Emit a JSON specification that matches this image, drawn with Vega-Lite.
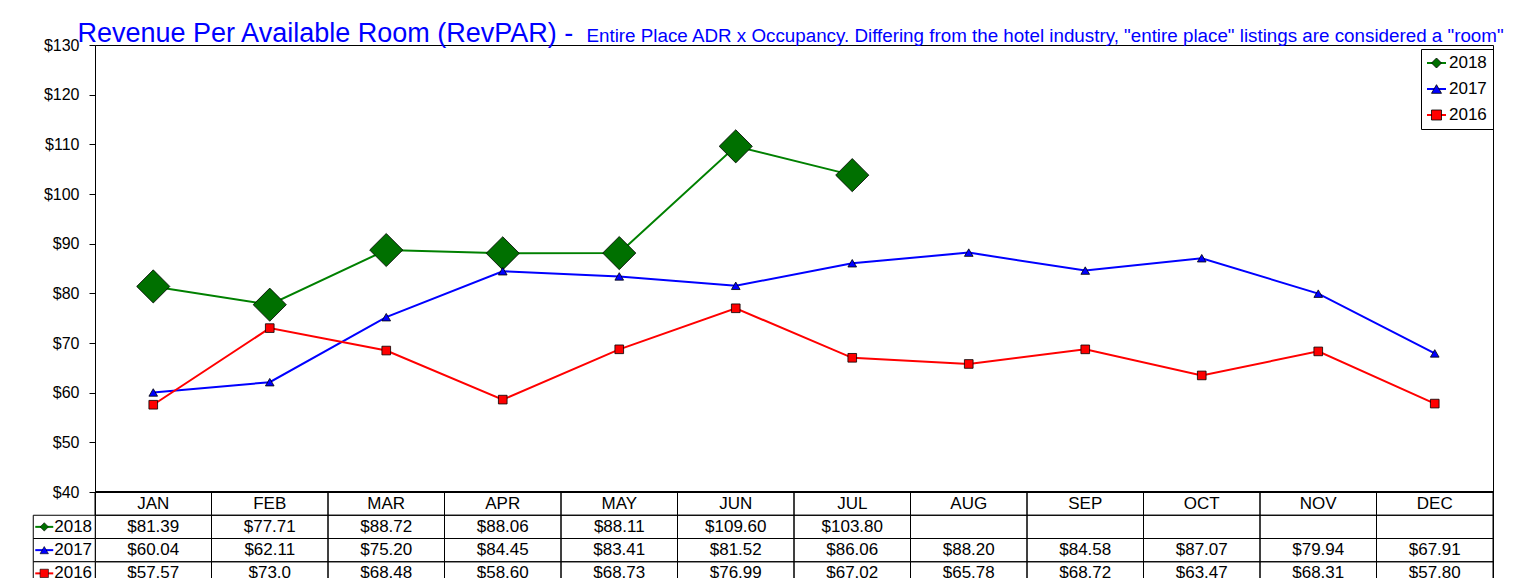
{
  "$schema": "https://vega.github.io/schema/vega-lite/v6.json",
  "autosize": {"type": "none"},
  "padding": {"left": 95, "top": 45, "right": 33, "bottom": 0},
  "width": 1398,
  "height": 541,
  "background": "white",
  "data": {
    "values": [
      {"month": "JAN", "year": "2018", "value": 81.39, "label": "$81.39"},
      {"month": "FEB", "year": "2018", "value": 77.71, "label": "$77.71"},
      {"month": "MAR", "year": "2018", "value": 88.72, "label": "$88.72"},
      {"month": "APR", "year": "2018", "value": 88.06, "label": "$88.06"},
      {"month": "MAY", "year": "2018", "value": 88.11, "label": "$88.11"},
      {"month": "JUN", "year": "2018", "value": 109.60, "label": "$109.60"},
      {"month": "JUL", "year": "2018", "value": 103.80, "label": "$103.80"},
      {"month": "AUG", "year": "2018", "value": null, "label": ""},
      {"month": "SEP", "year": "2018", "value": null, "label": ""},
      {"month": "OCT", "year": "2018", "value": null, "label": ""},
      {"month": "NOV", "year": "2018", "value": null, "label": ""},
      {"month": "DEC", "year": "2018", "value": null, "label": ""},
      {"month": "JAN", "year": "2017", "value": 60.04, "label": "$60.04"},
      {"month": "FEB", "year": "2017", "value": 62.11, "label": "$62.11"},
      {"month": "MAR", "year": "2017", "value": 75.20, "label": "$75.20"},
      {"month": "APR", "year": "2017", "value": 84.45, "label": "$84.45"},
      {"month": "MAY", "year": "2017", "value": 83.41, "label": "$83.41"},
      {"month": "JUN", "year": "2017", "value": 81.52, "label": "$81.52"},
      {"month": "JUL", "year": "2017", "value": 86.06, "label": "$86.06"},
      {"month": "AUG", "year": "2017", "value": 88.20, "label": "$88.20"},
      {"month": "SEP", "year": "2017", "value": 84.58, "label": "$84.58"},
      {"month": "OCT", "year": "2017", "value": 87.07, "label": "$87.07"},
      {"month": "NOV", "year": "2017", "value": 79.94, "label": "$79.94"},
      {"month": "DEC", "year": "2017", "value": 67.91, "label": "$67.91"},
      {"month": "JAN", "year": "2016", "value": 57.57, "label": "$57.57"},
      {"month": "FEB", "year": "2016", "value": 73.0, "label": "$73.0"},
      {"month": "MAR", "year": "2016", "value": 68.48, "label": "$68.48"},
      {"month": "APR", "year": "2016", "value": 58.60, "label": "$58.60"},
      {"month": "MAY", "year": "2016", "value": 68.73, "label": "$68.73"},
      {"month": "JUN", "year": "2016", "value": 76.99, "label": "$76.99"},
      {"month": "JUL", "year": "2016", "value": 67.02, "label": "$67.02"},
      {"month": "AUG", "year": "2016", "value": 65.78, "label": "$65.78"},
      {"month": "SEP", "year": "2016", "value": 68.72, "label": "$68.72"},
      {"month": "OCT", "year": "2016", "value": 63.47, "label": "$63.47"},
      {"month": "NOV", "year": "2016", "value": 68.31, "label": "$68.31"},
      {"month": "DEC", "year": "2016", "value": 57.80, "label": "$57.80"}
    ]
  },
  "encoding": {
    "x": {
      "field": "month",
      "type": "nominal",
      "sort": ["JAN","FEB","MAR","APR","MAY","JUN","JUL","AUG","SEP","OCT","NOV","DEC"],
      "scale": {"type": "band", "paddingInner": 0, "paddingOuter": 0, "domain": ["JAN","FEB","MAR","APR","MAY","JUN","JUL","AUG","SEP","OCT","NOV","DEC"]},
      "axis": null
    }
  },
  "layer": [
    {
      "encoding": {
        "y": {
          "field": "value",
          "type": "quantitative",
          "scale": {"domain": [40, 130], "nice": false, "zero": false, "range": [447, 0]},
          "axis": {
            "title": "Entire Place ADR x Occupancy. Differing from the hotel industry, \"entire place\" listings are considered a \"room\"",
            "titleAngle": 0,
            "titleX": 491,
            "titleY": -4,
            "titleAlign": "left",
            "titleBaseline": "alphabetic",
            "titleFont": "Liberation Sans",
            "titleFontSize": 18.8,
            "titleFontWeight": "normal",
            "titleColor": "#0000FF",
            "values": [40, 50, 60, 70, 80, 90, 100, 110, 120, 130],
            "format": "$d",
            "grid": false,
            "tickSize": 6,
            "tickColor": "black",
            "domainColor": "black",
            "labelPadding": 10,
            "labelFontSize": 16,
            "labelColor": "black"
          }
        }
      },
      "layer": [
        {
          "mark": {"type": "rule", "color": "black", "strokeWidth": 2},
          "encoding": {"x": null, "y": {"datum": 40}}
        },
        {
          "mark": {"type": "line", "strokeWidth": 2},
          "encoding": {
            "stroke": {
              "field": "year",
              "type": "nominal",
              "scale": {"domain": ["2016", "2017", "2018"], "range": ["#FF0000", "#0000FF", "#008000"]},
              "legend": {
                "orient": "none",
                "legendX": 1326,
                "legendY": 4,
                "values": ["2018", "2017", "2016"],
                "title": null,
                "padding": 5.5,
                "rowPadding": 8,
                "symbolType": "M-1.9,0L1.9,0",
                "symbolSize": 100,
                "symbolStrokeWidth": 2,
                "symbolOffset": 1.5,
                "labelFontSize": 17,
                "labelOpacity": 0
              }
            }
          }
        },
        {
          "transform": [{"filter": "datum.year === '2018'"}],
          "mark": {"type": "point", "filled": true, "opacity": 1, "stroke": "black", "strokeWidth": 0.8, "size": 1100},
          "encoding": {
            "fill": {
              "field": "year",
              "type": "nominal",
              "scale": {"domain": ["2018", "2017", "2016"], "range": ["#007000", "#0000FF", "#FF0000"]},
              "legend": {
                "orient": "none",
                "legendX": 1326,
                "legendY": 4,
                "title": null,
                "padding": 5.5,
                "rowPadding": 8,
                "symbolSize": 100,
                "symbolOffset": 1.5,
                "symbolStrokeColor": "black",
                "symbolStrokeWidth": 0.8,
                "labelFontSize": 17,
                "labelColor": "black",
                "strokeColor": "black"
              }
            },
            "shape": {
              "field": "year",
              "type": "nominal",
              "scale": {"domain": ["2018", "2017", "2016"], "range": ["diamond", "triangle-up", "square"]}
            }
          }
        },
        {
          "transform": [{"filter": "datum.year !== '2018'"}],
          "mark": {"type": "point", "filled": true, "opacity": 1, "stroke": "black", "strokeWidth": 0.8, "size": 75},
          "encoding": {
            "fill": {"field": "year", "type": "nominal"},
            "shape": {"field": "year", "type": "nominal"}
          }
        }
      ]
    },
    {
      "encoding": {
        "y": {
          "field": "year",
          "type": "nominal",
          "scale": {"type": "band", "paddingInner": 0, "paddingOuter": 0, "domain": ["hdr", "2018", "2017", "2016"], "range": [447, 540]},
          "axis": {
            "orient": "right",
            "labels": false,
            "ticks": false,
            "domain": false,
            "grid": false,
            "title": "Revenue Per Available Room (RevPAR) -",
            "titleAngle": 0,
            "titleX": -1416,
            "titleY": -4,
            "titleAlign": "left",
            "titleBaseline": "alphabetic",
            "titleFont": "Liberation Sans",
            "titleFontSize": 27,
            "titleFontWeight": "normal",
            "titleColor": "#0000FF"
          }
        }
      },
      "layer": [
        {
          "mark": {"type": "rect", "fill": "transparent", "stroke": "black", "strokeWidth": 1}
        },
        {
          "transform": [{"filter": "datum.year === '2016'"}],
          "mark": {"type": "rect", "fill": "transparent", "stroke": "black", "strokeWidth": 1},
          "encoding": {"y": {"datum": "hdr", "type": "nominal"}}
        },
        {
          "mark": {"type": "text", "fontSize": 17, "color": "black"},
          "encoding": {"text": {"field": "label"}}
        },
        {
          "transform": [{"filter": "datum.year === '2016'"}],
          "mark": {"type": "text", "fontSize": 17, "color": "black"},
          "encoding": {"y": {"datum": "hdr", "type": "nominal"}, "text": {"field": "month"}}
        },
        {
          "transform": [{"filter": "datum.month === 'JAN'"}],
          "mark": {"type": "rect", "width": 62, "xOffset": -89, "fill": "white", "stroke": "black", "strokeWidth": 1}
        },
        {
          "transform": [{"filter": "datum.month === 'JAN'"}],
          "mark": {"type": "point", "shape": "stroke", "size": 324, "xOffset": -109, "strokeWidth": 2, "opacity": 1},
          "encoding": {
            "stroke": {
              "field": "year",
              "type": "nominal",
              "scale": {"domain": ["2018", "2017", "2016"], "range": ["#008000", "#0000FF", "#FF0000"]},
              "legend": null
            }
          }
        },
        {
          "transform": [{"filter": "datum.month === 'JAN'"}],
          "mark": {"type": "point", "filled": true, "xOffset": -109, "stroke": "black", "strokeWidth": 0.6, "opacity": 1, "size": 70},
          "encoding": {
            "fill": {
              "field": "year",
              "type": "nominal",
              "scale": {"domain": ["2018", "2017", "2016"], "range": ["#007000", "#0000FF", "#FF0000"]},
              "legend": null
            },
            "shape": {
              "field": "year",
              "type": "nominal",
              "scale": {"domain": ["2018", "2017", "2016"], "range": ["diamond", "triangle-up", "square"]},
              "legend": null
            }
          }
        },
        {
          "transform": [{"filter": "datum.month === 'JAN'"}],
          "mark": {"type": "text", "align": "left", "xOffset": -99, "fontSize": 17, "color": "black"},
          "encoding": {"text": {"field": "year"}}
        }
      ]
    }
  ],
  "resolve": {
    "scale": {"y": "independent", "fill": "independent", "shape": "independent", "stroke": "independent"},
    "axis": {"y": "independent"},
    "legend": {"fill": "independent", "shape": "independent", "stroke": "independent"}
  },
  "config": {
    "font": "Liberation Sans",
    "view": {"stroke": "black", "strokeWidth": 1},
    "axis": {"labelFont": "Liberation Sans"},
    "legend": {"labelFont": "Liberation Sans"}
  }
}
